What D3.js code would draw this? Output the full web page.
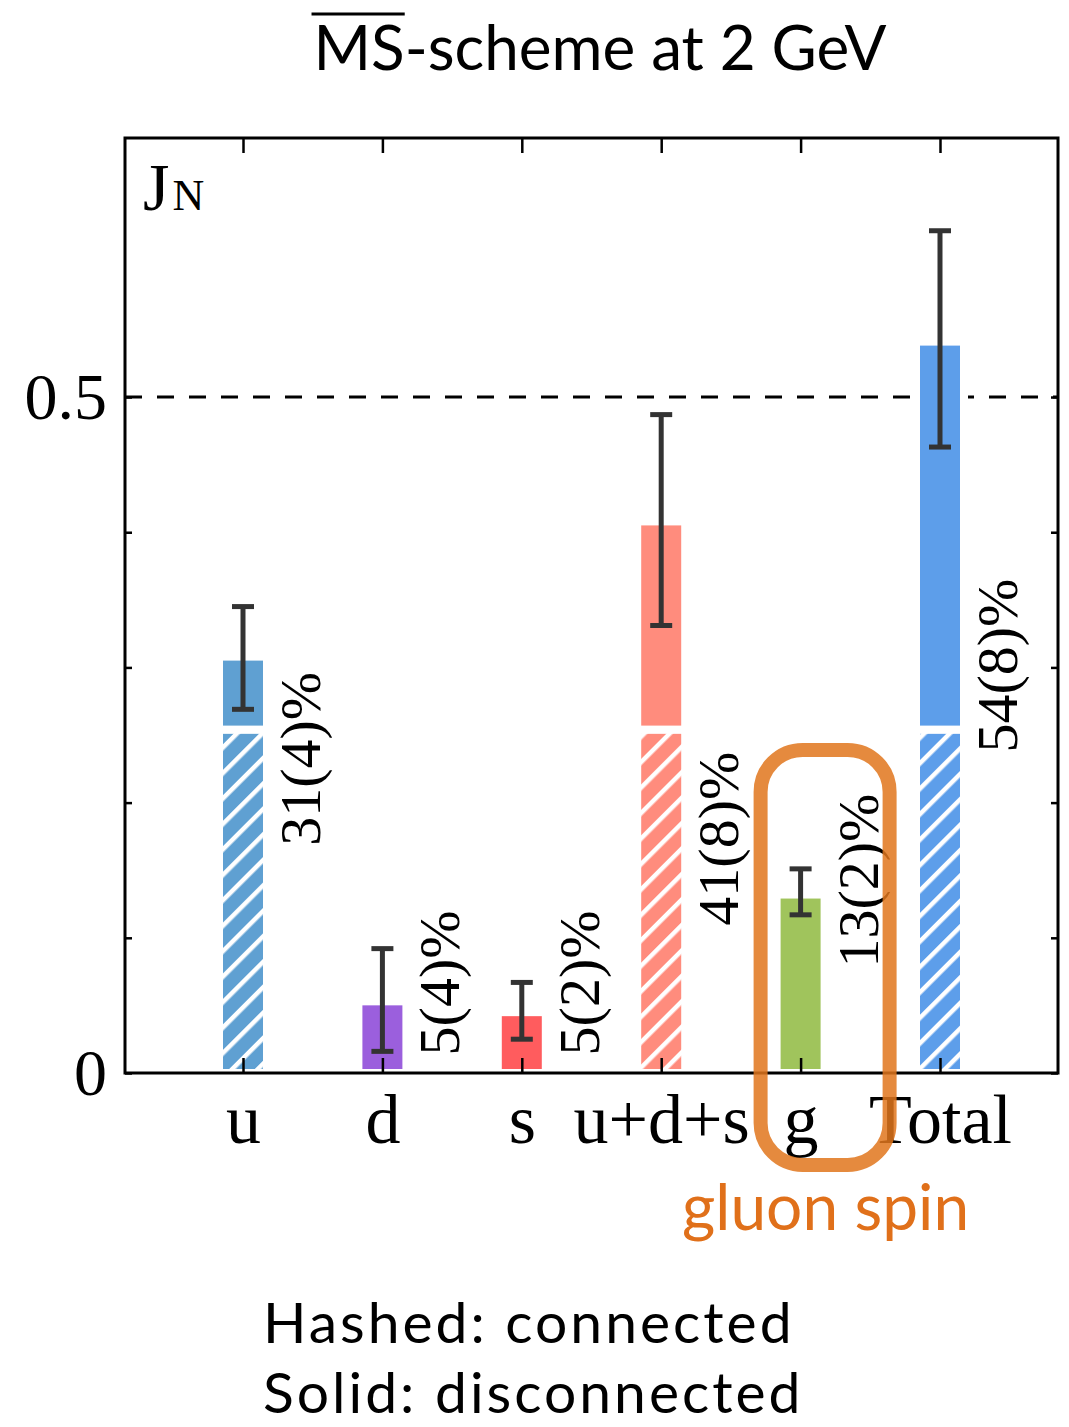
<!DOCTYPE html>
<html>
<head>
<meta charset="utf-8">
<script src="https://cdn.jsdelivr.net/npm/d3@7"></script>
<style>
  body { margin: 0; background: #fff; }
</style>
</head>
<body>
<svg id="chart" width="1069" height="1427"></svg>
<script>
// values (J_N contributions, MS-bar at 2 GeV)
const categories = ["u", "d", "s", "u+d+s", "g", "Total"];
const connected = [0.254, 0, 0, 0.254, 0, 0.254];
const totals = [0.308, 0.053, 0.045, 0.408, 0.132, 0.541];
const errCenter = [0.307, 0.054, 0.046, 0.409, 0.134, 0.543];
const errHalf = [0.038, 0.038, 0.021, 0.078, 0.017, 0.080];
const pctLabels = ["31(4)%", "5(4)%", "5(2)%", "41(8)%", "13(2)%", "54(8)%"];
const labelFrom = [0.168, 0.013, 0.013, 0.109, 0.078, 0.237];
const barColors = ["#5fa0d2", "#9b5fdd", "#ff5c5e", "#ff8c7d", "#a0c45c", "#5d9eea"];
const yTicks = [0, 0.1, 0.2, 0.3, 0.4, 0.5];
const yTickLabels = ["0", "", "", "", "", "0.5"];

const svg = d3.select("#chart");
const margin = { top: 138, right: 11, bottom: 354, left: 125 };
const W = +svg.attr("width"), H = +svg.attr("height");
const serif = "'Liberation Serif', 'DejaVu Serif', serif";
const sans = "Lato, 'Open Sans', sans-serif";

const x = d3.scalePoint()
  .domain(categories)
  .range([margin.left, W - margin.right])
  .padding(0.8465);

const y = d3.scaleLinear()
  .domain([0, 0.6916])
  .range([H - margin.bottom, margin.top]);

const barW = 48;

// hatch pattern per colour
const defs = svg.append("defs");
barColors.forEach((c, i) => {
  const p = defs.append("pattern")
    .attr("id", "hatch" + i)
    .attr("patternUnits", "userSpaceOnUse")
    .attr("width", 18).attr("height", 18)
    .attr("patternTransform", "rotate(45)");
  p.append("rect").attr("width", 18).attr("height", 18).attr("fill", c);
  p.append("line").attr("x1", 2).attr("x2", 2).attr("y1", 0).attr("y2", 18)
    .attr("stroke", "#fff").attr("stroke-width", 5);
});

const rows = categories.map((c, i) => ({
  cat: c, conn: connected[i], tot: totals[i], ec: errCenter[i], eh: errHalf[i],
  label: pctLabels[i], lf: labelFrom[i], color: barColors[i], i
}));

// dashed line at 0.5
svg.append("line")
  .attr("x1", margin.left).attr("x2", W - margin.right)
  .attr("y1", y(0.5)).attr("y2", y(0.5))
  .attr("stroke", "#000").attr("stroke-width", 3)
  .attr("stroke-dasharray", "17,15");

// hashed (connected) part
svg.selectAll("rect.conn")
  .data(rows.filter(d => d.conn > 0))
  .enter().append("rect")
  .attr("class", "conn")
  .attr("x", d => x(d.cat) - barW / 2)
  .attr("width", barW)
  .attr("y", d => y(d.conn))
  .attr("height", d => y(0) - y(d.conn))
  .attr("fill", d => `url(#hatch${d.i})`)
  .attr("stroke", "#fff").attr("stroke-width", 8);

// solid (disconnected) part
svg.selectAll("rect.disc")
  .data(rows)
  .enter().append("rect")
  .attr("class", "disc")
  .attr("x", d => x(d.cat) - barW / 2)
  .attr("width", barW)
  .attr("y", d => y(d.tot))
  .attr("height", d => y(d.conn) - y(d.tot))
  .attr("fill", d => d.color)
  .attr("stroke", "#fff").attr("stroke-width", 8);

// error bars
const eb = svg.selectAll("g.err").data(rows).enter().append("g")
  .attr("stroke", "#333").attr("stroke-width", 5);
eb.append("line")
  .attr("x1", d => x(d.cat)).attr("x2", d => x(d.cat))
  .attr("y1", d => y(d.ec - d.eh)).attr("y2", d => y(d.ec + d.eh));
[-1, 1].forEach(s => {
  eb.append("line")
    .attr("x1", d => x(d.cat) - 11).attr("x2", d => x(d.cat) + 11)
    .attr("y1", d => y(d.ec + s * d.eh)).attr("y2", d => y(d.ec + s * d.eh));
});

// percentage labels
svg.selectAll("text.pct").data(rows).enter().append("text")
  .attr("transform", d => `translate(${x(d.cat) + 77},${y(d.lf)}) rotate(-90)`)
  .attr("font-family", serif).attr("font-size", 58)
  .text(d => d.label);

// frame
svg.append("rect")
  .attr("x", margin.left).attr("y", margin.top)
  .attr("width", W - margin.right - margin.left)
  .attr("height", H - margin.bottom - margin.top)
  .attr("fill", "none").attr("stroke", "#000").attr("stroke-width", 3);

// axes with inward ticks
const axisStyle = g => {
  g.select(".domain").remove();
  g.selectAll(".tick line").attr("stroke", "#000").attr("stroke-width", 2.5);
  g.selectAll("text").attr("font-family", serif).attr("fill", "#000");
};

svg.append("g")
  .attr("transform", `translate(0,${y(0)})`)
  .call(d3.axisBottom(x).tickSizeInner(-15).tickSizeOuter(0).tickPadding(20))
  .call(axisStyle)
  .call(g => g.selectAll("text").attr("font-size", 70).attr("dy", "0.71em"));

svg.append("g")
  .attr("transform", `translate(0,${margin.top})`)
  .call(d3.axisTop(x).tickSizeInner(-15).tickSizeOuter(0).tickFormat(""))
  .call(axisStyle);

svg.append("g")
  .attr("transform", `translate(${margin.left},0)`)
  .call(d3.axisLeft(y).tickValues(yTicks).tickSizeInner(-7).tickSizeOuter(0)
    .tickPadding(18).tickFormat((d, i) => yTickLabels[i]))
  .call(axisStyle)
  .call(g => g.selectAll("text").attr("font-size", 66));

svg.append("g")
  .attr("transform", `translate(${W - margin.right},0)`)
  .call(d3.axisRight(y).tickValues(yTicks).tickSizeInner(-7).tickSizeOuter(0).tickFormat(""))
  .call(axisStyle);

// J_N label
const jn = svg.append("text")
  .attr("x", margin.left + 18).attr("y", margin.top + 72)
  .attr("font-family", serif).attr("fill", "#000");
jn.append("tspan").attr("font-size", 68).text("J");
jn.append("tspan").attr("font-size", 44).attr("dx", 3).text("N");

// title with overline on MS
const title = svg.append("text")
  .attr("x", 600).attr("y", 70)
  .attr("text-anchor", "middle")
  .attr("font-family", sans).attr("font-size", 62).attr("fill", "#000");
const ms = title.append("tspan").text("MS");
title.append("tspan").text("-scheme at 2 GeV");
const tb = title.node().getBBox();
const msW = ms.node().getComputedTextLength();
svg.append("line")
  .attr("x1", tb.x - 2).attr("x2", tb.x + msW)
  .attr("y1", 14).attr("y2", 14)
  .attr("stroke", "#000").attr("stroke-width", 3);

// gluon spin highlight
const gx = x("g");
svg.append("rect")
  .attr("x", gx - 40).attr("width", 129)
  .attr("y", y(0.239)).attr("height", y(-0.068) - y(0.239))
  .attr("rx", 42).attr("ry", 42)
  .attr("fill", "none")
  .attr("stroke", "#e0761c").attr("stroke-opacity", 0.85)
  .attr("stroke-width", 14);

svg.append("text")
  .attr("x", gx + 25).attr("y", 1230)
  .attr("text-anchor", "middle")
  .attr("font-family", sans).attr("font-size", 64)
  .attr("fill", "#e0701a")
  .text("gluon spin");

// legend note
svg.append("text")
  .attr("x", 263).attr("y", 1343)
  .attr("font-family", sans).attr("font-size", 57)
  .attr("letter-spacing", 3).attr("fill", "#000")
  .text("Hashed: connected");
svg.append("text")
  .attr("x", 263).attr("y", 1413)
  .attr("font-family", sans).attr("font-size", 57)
  .attr("letter-spacing", 3).attr("fill", "#000")
  .text("Solid: disconnected");
</script>
</body>
</html>
